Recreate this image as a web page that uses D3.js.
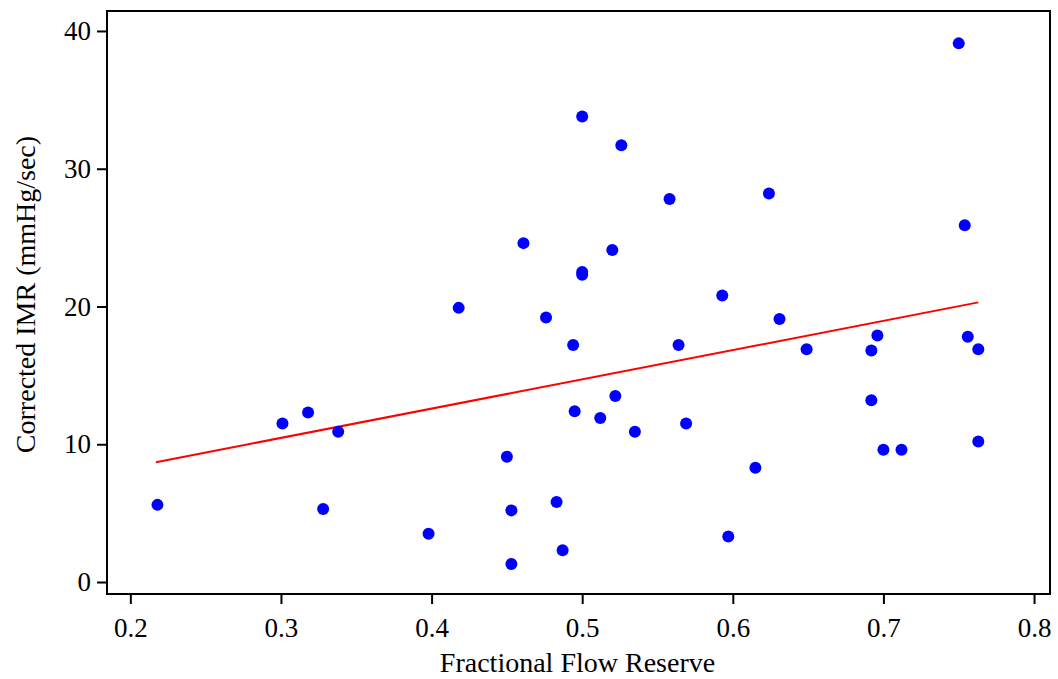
<!DOCTYPE html>
<html>
<head>
<meta charset="utf-8">
<script src="https://cdn.jsdelivr.net/npm/d3@7"></script>
<style>
  html, body { margin: 0; padding: 0; background: #fff; }
  svg { display: block; }
  text { font-family: "Liberation Serif", "Times New Roman", serif; fill: #000; }
</style>
</head>
<body>
<svg id="chart" width="1058" height="679"></svg>
<script>
// Data: Fractional Flow Reserve (x) vs Corrected IMR (y)
const ffr = [0.218, 0.301, 0.318, 0.328, 0.338, 0.398, 0.418, 0.450, 0.453, 0.453,
             0.461, 0.476, 0.483, 0.487, 0.494, 0.495, 0.500, 0.500, 0.500, 0.512,
             0.520, 0.522, 0.526, 0.535, 0.558, 0.564, 0.569, 0.593, 0.597, 0.615,
             0.624, 0.631, 0.649, 0.692, 0.692, 0.696, 0.700, 0.712, 0.750, 0.754,
             0.756, 0.763, 0.763];
const imr = [5.6, 11.5, 12.3, 5.3, 10.9, 3.5, 19.9, 9.1, 5.2, 1.3,
             24.6, 19.2, 5.8, 2.3, 17.2, 12.4, 33.8, 22.5, 22.3, 11.9,
             24.1, 13.5, 31.7, 10.9, 27.8, 17.2, 11.5, 20.8, 3.3, 8.3,
             28.2, 19.1, 16.9, 16.8, 13.2, 17.9, 9.6, 9.6, 39.1, 25.9,
             17.8, 16.9, 10.2];
// Fitted regression line endpoints
const fitX = [0.217, 0.763];
const fitY = [8.7, 20.3];
// Tick values
const xTicks = [0.2, 0.3, 0.4, 0.5, 0.6, 0.7, 0.8];
const yTicks = [0, 10, 20, 30, 40];
const xTitle = "Fractional Flow Reserve";
const yTitle = "Corrected IMR (mmHg/sec)";

const svg = d3.select("#chart");
const margin = { left: 107, top: 11, right: 8, bottom: 85 };
const W = 1058, H = 679;
const iw = W - margin.left - margin.right;
const ih = H - margin.top - margin.bottom;

const x = d3.scaleLinear().domain([0.1845, 0.8106]).range([0, iw]);
const y = d3.scaleLinear().domain([-0.87, 41.45]).range([ih, 0]);

const g = svg.append("g").attr("transform", `translate(${margin.left},${margin.top})`);

// Frame
g.append("rect").attr("x", 0).attr("y", 0).attr("width", iw).attr("height", ih)
  .attr("fill", "none").attr("stroke", "#000").attr("stroke-width", 2);

// Axes
const xAxis = g.append("g").attr("transform", `translate(0,${ih})`)
  .call(d3.axisBottom(x).tickValues(xTicks).tickFormat(d3.format(".1f")).tickSize(10).tickSizeOuter(0));
const yAxis = g.append("g")
  .call(d3.axisLeft(y).tickValues(yTicks).tickFormat(d3.format("d")).tickSize(10).tickSizeOuter(0));

[xAxis, yAxis].forEach(a => {
  a.select(".domain").remove();
  a.selectAll(".tick line").attr("stroke", "#000").attr("stroke-width", 2);
  a.selectAll(".tick text").style("font-size", "27px").style("font-family", '"Liberation Serif", serif').attr("fill", "#000");
});
xAxis.selectAll(".tick text").attr("dy", "0.71em").attr("y", 24);
yAxis.selectAll(".tick text").attr("x", -16);

// Regression line
g.append("line")
  .attr("x1", x(fitX[0])).attr("y1", y(fitY[0]))
  .attr("x2", x(fitX[1])).attr("y2", y(fitY[1]))
  .attr("stroke", "#ff0000").attr("stroke-width", 2);

// Points
g.selectAll("circle.pt").data(ffr.map((v, i) => [v, imr[i]])).enter()
  .append("circle").attr("class", "pt")
  .attr("cx", d => x(d[0])).attr("cy", d => y(d[1])).attr("r", 6)
  .attr("fill", "#0000ff");

// Titles
svg.append("text").attr("x", 577.5).attr("y", 672)
  .attr("text-anchor", "middle").style("font-size", "28px").text(xTitle);
svg.append("text").attr("transform", `translate(35,294.5) rotate(-90)`)
  .attr("text-anchor", "middle").style("font-size", "28px").text(yTitle);
</script>
</body>
</html>
